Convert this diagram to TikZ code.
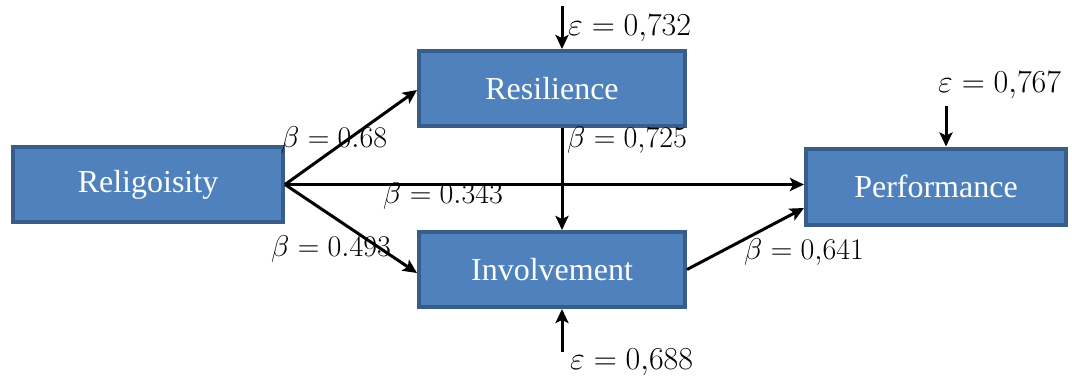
\RequirePackage{fix-cm}
\documentclass[tikz,border=0pt]{standalone}
\usepackage{fontspec}
\setmainfont{Liberation Serif}
\usetikzlibrary{arrows.meta}
\definecolor{boxfill}{HTML}{4F81BD}
\definecolor{boxline}{HTML}{385D8A}
\tikzset{
  box/.style={draw=boxline, line width=4pt, fill=boxfill, text=white,
    font=\fontsize{32}{38}\selectfont, inner sep=0pt},
  conn/.style={line width=3pt, -{Stealth[length=14pt,width=13pt,inset=3pt]}},
  lab/.style={anchor=west, inner sep=0pt, font=\fontsize{30}{36}\selectfont},
  elab/.style={anchor=west, inner sep=0pt, font=\fontsize{32}{38}\selectfont}
}
\begin{document}
\begin{tikzpicture}[x=1pt,y=-1pt]
\useasboundingbox (0,0) rectangle (1072,376);
\node[box, minimum width=270pt, minimum height=75pt] (rel) at (148,184.5) {Religoisity};
\node[box, minimum width=266pt, minimum height=75pt] (res) at (552,88.5) {Resilience};
\node[box, minimum width=266pt, minimum height=75pt] (inv) at (552,269.5) {Involvement};
\node[box, minimum width=260pt, minimum height=76pt] (per) at (936,186.5) {Performance};

\coordinate (e1) at (562,6);
\coordinate (e2) at (946,106);
\coordinate (e3) at (562,352);

\draw[conn] (rel.east) -- ([yshift=-1.5pt]res.west);
\draw[conn] (rel.east) -- ([yshift=2pt]per.west);
\draw[conn] (rel.east) -- ([yshift=-3.5pt]inv.west);
\draw[conn] ([xshift=10pt]res.south) -- ([xshift=10pt]inv.north);
\draw[conn] (inv.east) -- ([yshift=-21.5pt]per.west);
\draw[conn] (e1) -- ([xshift=10pt]res.north);
\draw[conn] (e2) -- ([xshift=10pt]per.north);
\draw[conn] (e3) -- ([xshift=10pt]inv.south);

\node[lab] (l1) at (281,140) {$\beta = 0.68$};
\node[lab] (l2) at (383,196) {$\beta = 0.343$};
\node[lab] (l3) at (271,249) {$\beta = 0.493$};
\node[lab] (l4) at (567,140) {$\beta = 0{,}725$};
\node[lab] (l5) at (744,252) {$\beta = 0{,}641$};
\node[elab] (l6) at (568,28) {$\varepsilon = 0{,}732$};
\node[elab] (l7) at (938,85) {$\varepsilon = 0{,}767$};
\node[elab] (l8) at (570,362) {$\varepsilon = 0{,}688$};
\end{tikzpicture}
\end{document}
